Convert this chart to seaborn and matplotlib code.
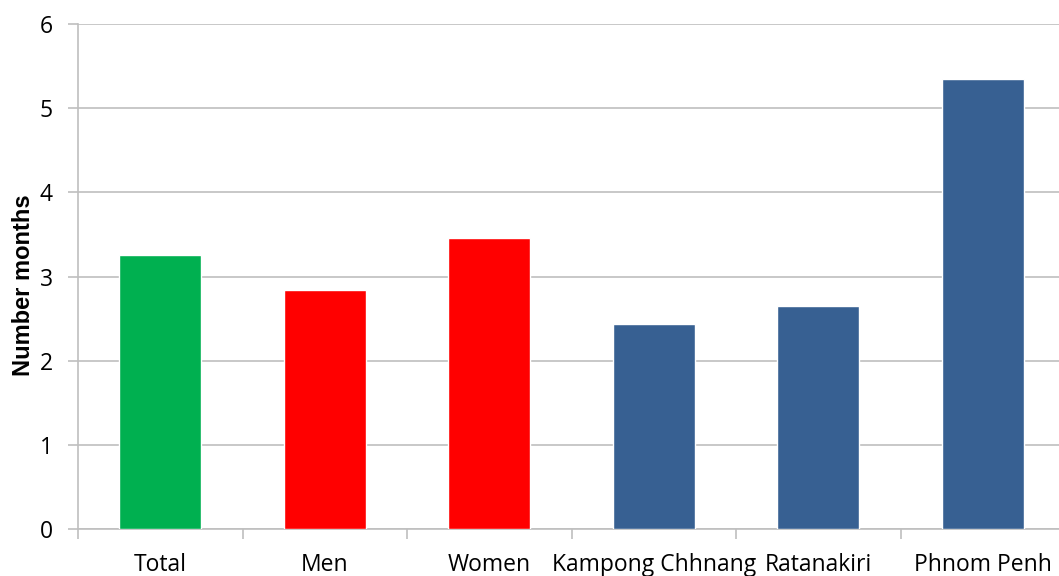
import matplotlib
matplotlib.use("Agg")
import matplotlib.pyplot as plt
import seaborn as sns
import pandas as pd
from matplotlib.ticker import FixedLocator

categories = ["Total", "Men", "Women", "Kampong Chhnang", "Ratanakiri", "Phnom Penh"]
months = [3.25, 2.84, 3.46, 2.44, 2.65, 5.35]
bar_colors = ["#00B050", "#FF0000", "#FF0000", "#376092", "#376092", "#376092"]
y_ticks = [0, 1, 2, 3, 4, 5, 6]

df = pd.DataFrame({"category": categories, "months": months})
palette = dict(zip(categories, bar_colors))

sns.set_style("white")
plt.rcParams["font.family"] = ["Open Sans", "DejaVu Sans"]

fig = plt.figure(figsize=(10.59, 5.76), dpi=100)
ax = fig.add_axes([78 / 1059, 1 - 529 / 576, 987 / 1059, 505 / 576])

sns.barplot(data=df, x="category", y="months", hue="category", palette=palette,
            width=0.5, legend=False, saturation=1, ax=ax, zorder=3)

grid_color = "#BFBFBF"
ax.set_ylim(0, 6)
ax.set_xlim(-0.5, len(categories) - 0.5)
ax.set_yticks(y_ticks)
ax.yaxis.grid(True, color=grid_color, linewidth=1.2, zorder=0)
ax.set_axisbelow(True)

for side in ["top", "right"]:
    ax.spines[side].set_visible(False)
for side in ["left", "bottom"]:
    ax.spines[side].set_color(grid_color)
    ax.spines[side].set_linewidth(1.2)

ax.tick_params(axis="y", which="major", direction="out", length=7, width=1.2,
               color=grid_color, labelsize=16.5, labelcolor="black", pad=11, left=True)
ax.tick_params(axis="x", which="major", length=0, labelsize=16.5, labelcolor="black", pad=17)
ax.xaxis.set_minor_locator(FixedLocator([i - 0.5 for i in range(len(categories) + 1)]))
ax.tick_params(axis="x", which="minor", direction="out", length=7, width=1.2,
               color=grid_color, bottom=True)

ax.set_xlabel("")
ax.set_ylabel("Number months", fontsize=17, fontweight="bold", color="black",
              family=["Liberation Sans", "DejaVu Sans"])
ax.yaxis.set_label_coords(-0.044, 0.482)

fig.savefig("out.png", dpi=100)
